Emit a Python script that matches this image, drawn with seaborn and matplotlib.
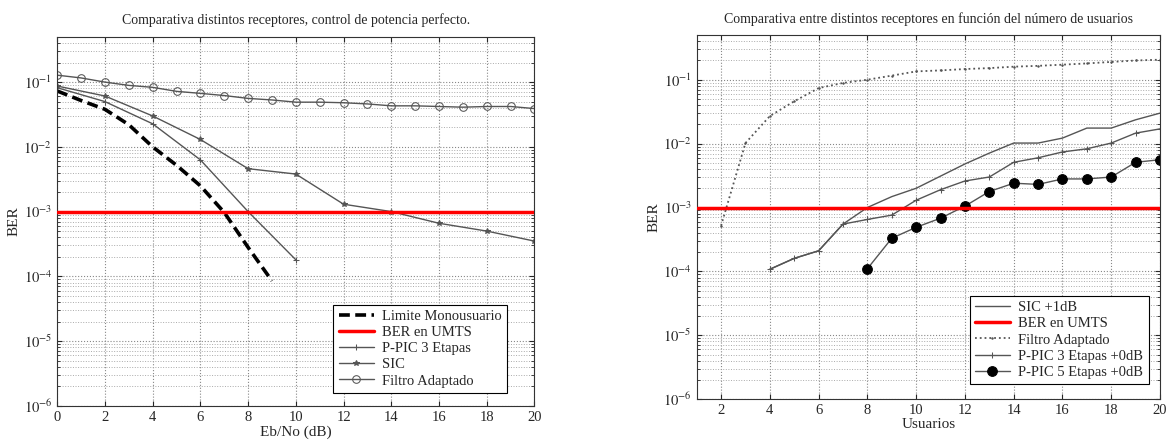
import numpy as np
import pandas as pd
import matplotlib
matplotlib.use("Agg")
import matplotlib.pyplot as plt
import seaborn as sns
from matplotlib.ticker import LogLocator, NullFormatter, FixedLocator

# ---------------- data: left chart ----------------
ebno_all = list(range(0, 21))
filtro_left = [0.128, 0.116, 0.100, 0.089, 0.083, 0.072, 0.067, 0.062, 0.056, 0.053,
               0.049, 0.049, 0.048, 0.046, 0.043, 0.043, 0.042, 0.041, 0.042, 0.042, 0.039]
ebno_mono = list(range(0, 10))
limite_mono = [0.073, 0.052, 0.038, 0.022, 0.0100, 0.0052, 0.0025, 0.00097, 0.00028, 0.000085]
ebno_ppic = [0, 2, 4, 6, 8, 10]
ppic3_left = [0.082, 0.050, 0.0227, 0.0063, 0.0010, 0.00018]
ebno_sic = [0, 2, 4, 6, 8, 10, 12, 14, 16, 18, 20]
sic_left = [0.087, 0.061, 0.030, 0.013, 0.0046, 0.0038, 0.00130, 0.00100, 0.00066, 0.00050, 0.00035]
ber_umts = 1e-3

# ---------------- data: right chart ----------------
users_filtro = list(range(2, 21))
filtro_right = [0.00052, 0.0102, 0.027, 0.046, 0.074, 0.089, 0.100, 0.116, 0.135, 0.140,
                0.147, 0.152, 0.160, 0.165, 0.172, 0.180, 0.190, 0.200, 0.206]
users_sic = list(range(4, 21))
sic_right = [1.08e-4, 1.6e-4, 2.1e-4, 5.5e-4, 1.0e-3, 1.48e-3, 2.0e-3, 3.1e-3, 4.8e-3,
             7.1e-3, 1.02e-2, 1.02e-2, 1.22e-2, 1.75e-2, 1.75e-2, 2.36e-2, 3.0e-2]
users_ppic3 = list(range(4, 21))
ppic3_right = [1.08e-4, 1.6e-4, 2.1e-4, 5.5e-4, 6.5e-4, 7.6e-4, 1.3e-3, 1.9e-3, 2.6e-3,
               3.0e-3, 5.1e-3, 6.0e-3, 7.4e-3, 8.3e-3, 1.02e-2, 1.46e-2, 1.7e-2]
users_ppic5 = list(range(8, 21))
ppic5_right = [1.1e-4, 3.3e-4, 4.9e-4, 6.8e-4, 1.05e-3, 1.78e-3, 2.4e-3, 2.3e-3, 2.8e-3,
               2.8e-3, 3.0e-3, 5.1e-3, 5.6e-3]

left_title = "Comparativa distintos receptores, control de potencia perfecto."
right_title = "Comparativa entre distintos receptores en función del número de usuarios"

# ---------------- style ----------------
sns.set_style("ticks")
plt.rcParams['font.family'] = ['Liberation Serif', 'DejaVu Serif']
plt.rcParams['mathtext.fontset'] = 'stix'

fig = plt.figure(figsize=(11.67, 4.44), dpi=100)
axL = fig.add_axes([0.049, 0.086, 0.409, 0.831])
axR = fig.add_axes([0.597, 0.101, 0.397, 0.820])

LC = '#555555'


def style_axes(ax, xlim, xticks):
    ax.set_yscale('log')
    ax.set_ylim(1e-6, 0.5)
    ax.set_xlim(*xlim)
    ax.set_xticks(xticks)
    ax.set_xticklabels([str(t) for t in xticks])
    ax.yaxis.set_major_locator(FixedLocator([1e-6, 1e-5, 1e-4, 1e-3, 1e-2, 1e-1]))
    ax.set_yticklabels([r'$10^{-6}$', r'$10^{-5}$', r'$10^{-4}$', r'$10^{-3}$',
                        r'$10^{-2}$', r'$10^{-1}$'])
    ax.yaxis.set_minor_locator(LogLocator(base=10, subs=np.arange(2, 10), numticks=20))
    ax.yaxis.set_minor_formatter(NullFormatter())
    ax.grid(True, which='major', axis='both', linestyle=':', color='#888888', linewidth=0.8)
    ax.grid(True, which='minor', axis='y', linestyle=':', color='#aaaaaa', linewidth=0.7)
    ax.tick_params(which='both', direction='in', top=True, right=True, labelsize=10.5)
    ax.tick_params(which='minor', length=2)
    for s in ax.spines.values():
        s.set_color('#333333')
        s.set_linewidth(0.8)


# ---------------- left chart ----------------
sns.lineplot(x=ebno_mono, y=limite_mono, ax=axL, color='black', linewidth=2.6,
             linestyle=(0, (3, 1.5)), label='Limite Monousuario')
axL.axhline(ber_umts, color='red', linewidth=2.5, label='BER en UMTS', zorder=3)
sns.lineplot(x=ebno_ppic, y=ppic3_left, ax=axL, color=LC, linewidth=1.0, marker='+',
             markersize=4, markeredgecolor=LC, label='P-PIC 3 Etapas')
sns.lineplot(x=ebno_sic, y=sic_left, ax=axL, color=LC, linewidth=1.0, marker='*',
             markersize=4, markeredgecolor=LC, markerfacecolor=LC, label='SIC')
sns.lineplot(x=ebno_all, y=filtro_left, ax=axL, color=LC, linewidth=1.0, marker='o',
             markersize=5.5, markerfacecolor='none', markeredgecolor=LC, label='Filtro Adaptado')
style_axes(axL, (0, 20), list(range(0, 21, 2)))
axL.set_title(left_title, fontsize=10, pad=9)
axL.set_xlabel('Eb/No (dB)', fontsize=11, labelpad=1)
axL.set_ylabel('BER', fontsize=11, labelpad=2)
legL = axL.legend(loc='lower right', bbox_to_anchor=(0.958, 0.016), fontsize=10.5,
                  frameon=True, fancybox=False, framealpha=1, edgecolor='black',
                  handlelength=2.4, borderpad=0.35, labelspacing=0.2, handletextpad=0.6)
legL.get_frame().set_linewidth(0.8)

# ---------------- right chart ----------------
sns.lineplot(x=users_sic, y=sic_right, ax=axR, color=LC, linewidth=1.0, label='SIC +1dB')
axR.axhline(ber_umts, color='red', linewidth=2.5, label='BER en UMTS', zorder=3)
sns.lineplot(x=users_filtro, y=filtro_right, ax=axR, color=LC, linewidth=1.3,
             linestyle=':', marker='.', markersize=2, markeredgecolor=LC, label='Filtro Adaptado')
sns.lineplot(x=users_ppic3, y=ppic3_right, ax=axR, color=LC, linewidth=1.0, marker='+',
             markersize=4, markeredgecolor=LC, label='P-PIC 3 Etapas +0dB')
sns.lineplot(x=users_ppic5, y=ppic5_right, ax=axR, color=LC, linewidth=1.0, marker='o',
             markersize=7, markerfacecolor='black', markeredgecolor='black',
             label='P-PIC 5 Etapas +0dB')
style_axes(axR, (1, 20), list(range(2, 21, 2)))
axR.set_title(right_title, fontsize=10, pad=9)
axR.set_xlabel('Usuarios', fontsize=11, labelpad=1)
axR.set_ylabel('BER', fontsize=11, labelpad=2)
legR = axR.legend(loc='lower right', bbox_to_anchor=(0.991, 0.022), fontsize=10.5,
                  frameon=True, fancybox=False, framealpha=1, edgecolor='black',
                  handlelength=2.4, borderpad=0.35, labelspacing=0.2, handletextpad=0.6)
legR.get_frame().set_linewidth(0.8)

fig.savefig('out.png', dpi=100)
